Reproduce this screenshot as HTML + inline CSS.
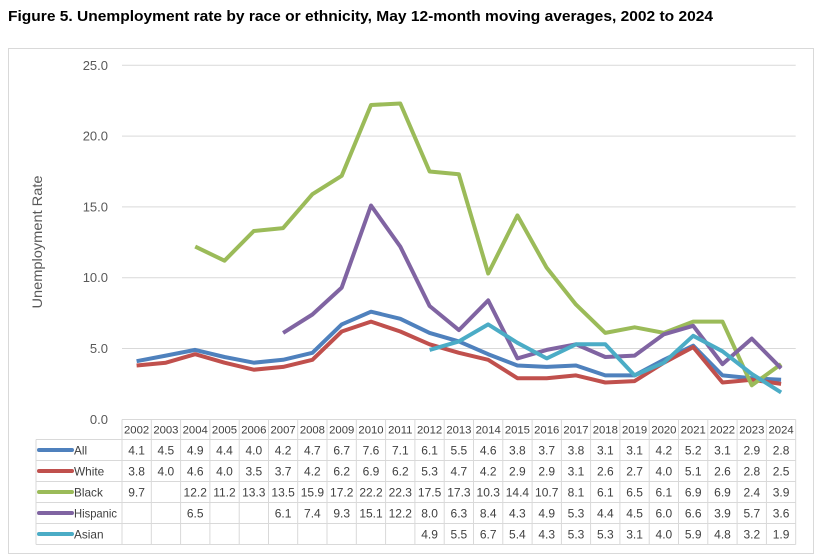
<!DOCTYPE html>
<html>
<head>
<meta charset="utf-8">
<style>
html,body{margin:0;padding:0;background:#fff;}
svg{display:block;}
</style>
</head>
<body>
<svg width="823" height="559" viewBox="0 0 823 559" xmlns="http://www.w3.org/2000/svg" font-family="'Liberation Sans', Arial, sans-serif">
<rect x="0" y="0" width="823" height="559" fill="#fff"/>
<text x="8" y="21" font-size="14.5" font-weight="bold" fill="#000" textLength="705" lengthAdjust="spacingAndGlyphs">Figure 5. Unemployment rate by race or ethnicity, May 12-month moving averages, 2002 to 2024</text>
<rect x="8.5" y="48.5" width="805" height="505" fill="#fff" stroke="#d9d9d9" stroke-width="1"/>

<!-- gridlines -->
<g stroke="#d9d9d9" stroke-width="1">
<line x1="122" y1="65.3" x2="795.7" y2="65.3"/>
<line x1="122" y1="136.1" x2="795.7" y2="136.1"/>
<line x1="122" y1="206.9" x2="795.7" y2="206.9"/>
<line x1="122" y1="277.7" x2="795.7" y2="277.7"/>
<line x1="122" y1="348.5" x2="795.7" y2="348.5"/>
</g>

<!-- y tick labels -->
<g font-size="13" fill="#595959" text-anchor="end">
<text x="108" y="69.8">25.0</text>
<text x="108" y="140.6">20.0</text>
<text x="108" y="211.4">15.0</text>
<text x="108" y="282.2">10.0</text>
<text x="108" y="353">5.0</text>
<text x="108" y="423.8">0.0</text>
</g>
<text transform="translate(42,242) rotate(-90)" font-size="14" fill="#595959" text-anchor="middle" textLength="133" lengthAdjust="spacingAndGlyphs">Unemployment Rate</text>

<!-- series -->
<g fill="none" stroke-width="4" stroke-linejoin="round" stroke-linecap="butt">
<polyline stroke="#4F81BD" points="136.6,361.2 165.9,355.6 195.2,349.9 224.5,357.0 253.8,362.7 283.1,359.8 312.4,352.8 341.7,324.4 371.0,311.7 400.3,318.8 429.6,332.9 458.9,341.4 488.2,354.2 517.4,365.5 546.7,366.9 576.0,365.5 605.3,375.4 634.6,375.4 663.9,359.8 693.2,345.7 722.5,375.4 751.8,378.2 781.1,379.7"/>
<polyline stroke="#C0504D" points="136.6,365.5 165.9,362.7 195.2,354.2 224.5,362.7 253.8,369.7 283.1,366.9 312.4,359.8 341.7,331.5 371.0,321.6 400.3,331.5 429.6,344.3 458.9,352.8 488.2,359.8 517.4,378.2 546.7,378.2 576.0,375.4 605.3,382.5 634.6,381.1 663.9,362.7 693.2,347.1 722.5,382.5 751.8,379.7 781.1,383.9"/>
<polyline stroke="#9BBB59" points="195.2,246.6 224.5,260.7 253.8,231.0 283.1,228.1 312.4,194.2 341.7,175.8 371.0,105.0 400.3,103.5 429.6,171.5 458.9,174.3 488.2,273.5 517.4,215.4 546.7,267.8 576.0,304.6 605.3,332.9 634.6,327.3 663.9,332.9 693.2,321.6 722.5,321.6 751.8,385.3 781.1,364.1"/>
<polyline stroke="#8064A2" points="283.1,332.9 312.4,314.5 341.7,287.6 371.0,205.5 400.3,246.6 429.6,306.0 458.9,330.1 488.2,300.4 517.4,358.4 546.7,349.9 576.0,344.3 605.3,357.0 634.6,355.6 663.9,334.3 693.2,325.8 722.5,364.1 751.8,338.6 781.1,368.3"/>
<polyline stroke="#4BACC6" points="429.6,349.9 458.9,341.4 488.2,324.4 517.4,342.8 546.7,358.4 576.0,344.3 605.3,344.3 634.6,375.4 663.9,362.7 693.2,335.8 722.5,351.3 751.8,374.0 781.1,392.4"/>
</g>

<!-- data table grid -->
<g stroke="#d9d9d9" stroke-width="1">
<line x1="122" y1="419.5" x2="795.7" y2="419.5"/>
<line x1="36" y1="439.5" x2="795.7" y2="439.5"/>
<line x1="36" y1="460.5" x2="795.7" y2="460.5"/>
<line x1="36" y1="481.5" x2="795.7" y2="481.5"/>
<line x1="36" y1="502.5" x2="795.7" y2="502.5"/>
<line x1="36" y1="523.5" x2="795.7" y2="523.5"/>
<line x1="36" y1="544.5" x2="795.7" y2="544.5"/>
<line x1="36" y1="439.5" x2="36" y2="544.5"/>
<line x1="122" y1="419.5" x2="122" y2="544.5"/>
<line x1="151.3" y1="419.5" x2="151.3" y2="544.5"/>
<line x1="180.6" y1="419.5" x2="180.6" y2="544.5"/>
<line x1="209.9" y1="419.5" x2="209.9" y2="544.5"/>
<line x1="239.2" y1="419.5" x2="239.2" y2="544.5"/>
<line x1="268.5" y1="419.5" x2="268.5" y2="544.5"/>
<line x1="297.7" y1="419.5" x2="297.7" y2="544.5"/>
<line x1="327.0" y1="419.5" x2="327.0" y2="544.5"/>
<line x1="356.3" y1="419.5" x2="356.3" y2="544.5"/>
<line x1="385.6" y1="419.5" x2="385.6" y2="544.5"/>
<line x1="414.9" y1="419.5" x2="414.9" y2="544.5"/>
<line x1="444.2" y1="419.5" x2="444.2" y2="544.5"/>
<line x1="473.5" y1="419.5" x2="473.5" y2="544.5"/>
<line x1="502.8" y1="419.5" x2="502.8" y2="544.5"/>
<line x1="532.1" y1="419.5" x2="532.1" y2="544.5"/>
<line x1="561.4" y1="419.5" x2="561.4" y2="544.5"/>
<line x1="590.6" y1="419.5" x2="590.6" y2="544.5"/>
<line x1="619.9" y1="419.5" x2="619.9" y2="544.5"/>
<line x1="649.2" y1="419.5" x2="649.2" y2="544.5"/>
<line x1="678.5" y1="419.5" x2="678.5" y2="544.5"/>
<line x1="707.8" y1="419.5" x2="707.8" y2="544.5"/>
<line x1="737.1" y1="419.5" x2="737.1" y2="544.5"/>
<line x1="766.4" y1="419.5" x2="766.4" y2="544.5"/>
<line x1="795.7" y1="419.5" x2="795.7" y2="544.5"/>
</g>

<!-- header years -->
<g font-size="11.3" fill="#404040" text-anchor="middle">
<text x="136.6" y="433.5">2002</text><text x="165.9" y="433.5">2003</text><text x="195.2" y="433.5">2004</text><text x="224.5" y="433.5">2005</text><text x="253.8" y="433.5">2006</text><text x="283.1" y="433.5">2007</text><text x="312.4" y="433.5">2008</text><text x="341.7" y="433.5">2009</text><text x="371.0" y="433.5">2010</text><text x="400.3" y="433.5">2011</text><text x="429.6" y="433.5">2012</text><text x="458.9" y="433.5">2013</text><text x="488.2" y="433.5">2014</text><text x="517.4" y="433.5">2015</text><text x="546.7" y="433.5">2016</text><text x="576.0" y="433.5">2017</text><text x="605.3" y="433.5">2018</text><text x="634.6" y="433.5">2019</text><text x="663.9" y="433.5">2020</text><text x="693.2" y="433.5">2021</text><text x="722.5" y="433.5">2022</text><text x="751.8" y="433.5">2023</text><text x="781.1" y="433.5">2024</text>
</g>

<!-- legend keys -->
<g stroke-width="4" stroke-linecap="round">
<line x1="39" y1="450" x2="72" y2="450" stroke="#4F81BD"/>
<line x1="39" y1="471" x2="72" y2="471" stroke="#C0504D"/>
<line x1="39" y1="492" x2="72" y2="492" stroke="#9BBB59"/>
<line x1="39" y1="513" x2="72" y2="513" stroke="#8064A2"/>
<line x1="39" y1="534" x2="72" y2="534" stroke="#4BACC6"/>
</g>
<g font-size="11.8" fill="#404040">
<text x="74" y="454.5">All</text>
<text x="74" y="475.5">White</text>
<text x="74" y="496.5">Black</text>
<text x="74" y="517.5" textLength="43" lengthAdjust="spacingAndGlyphs">Hispanic</text>
<text x="74" y="538.5">Asian</text>
</g>

<!-- values -->
<g font-size="12" fill="#404040" text-anchor="middle">
<!-- All -->
<text x="136.6" y="454.5">4.1</text><text x="165.9" y="454.5">4.5</text><text x="195.2" y="454.5">4.9</text><text x="224.5" y="454.5">4.4</text><text x="253.8" y="454.5">4.0</text><text x="283.1" y="454.5">4.2</text><text x="312.4" y="454.5">4.7</text><text x="341.7" y="454.5">6.7</text><text x="371.0" y="454.5">7.6</text><text x="400.3" y="454.5">7.1</text><text x="429.6" y="454.5">6.1</text><text x="458.9" y="454.5">5.5</text><text x="488.2" y="454.5">4.6</text><text x="517.4" y="454.5">3.8</text><text x="546.7" y="454.5">3.7</text><text x="576.0" y="454.5">3.8</text><text x="605.3" y="454.5">3.1</text><text x="634.6" y="454.5">3.1</text><text x="663.9" y="454.5">4.2</text><text x="693.2" y="454.5">5.2</text><text x="722.5" y="454.5">3.1</text><text x="751.8" y="454.5">2.9</text><text x="781.1" y="454.5">2.8</text>
<!-- White -->
<text x="136.6" y="475.5">3.8</text><text x="165.9" y="475.5">4.0</text><text x="195.2" y="475.5">4.6</text><text x="224.5" y="475.5">4.0</text><text x="253.8" y="475.5">3.5</text><text x="283.1" y="475.5">3.7</text><text x="312.4" y="475.5">4.2</text><text x="341.7" y="475.5">6.2</text><text x="371.0" y="475.5">6.9</text><text x="400.3" y="475.5">6.2</text><text x="429.6" y="475.5">5.3</text><text x="458.9" y="475.5">4.7</text><text x="488.2" y="475.5">4.2</text><text x="517.4" y="475.5">2.9</text><text x="546.7" y="475.5">2.9</text><text x="576.0" y="475.5">3.1</text><text x="605.3" y="475.5">2.6</text><text x="634.6" y="475.5">2.7</text><text x="663.9" y="475.5">4.0</text><text x="693.2" y="475.5">5.1</text><text x="722.5" y="475.5">2.6</text><text x="751.8" y="475.5">2.8</text><text x="781.1" y="475.5">2.5</text>
<!-- Black -->
<text x="136.6" y="496.5">9.7</text><text x="195.2" y="496.5">12.2</text><text x="224.5" y="496.5">11.2</text><text x="253.8" y="496.5">13.3</text><text x="283.1" y="496.5">13.5</text><text x="312.4" y="496.5">15.9</text><text x="341.7" y="496.5">17.2</text><text x="371.0" y="496.5">22.2</text><text x="400.3" y="496.5">22.3</text><text x="429.6" y="496.5">17.5</text><text x="458.9" y="496.5">17.3</text><text x="488.2" y="496.5">10.3</text><text x="517.4" y="496.5">14.4</text><text x="546.7" y="496.5">10.7</text><text x="576.0" y="496.5">8.1</text><text x="605.3" y="496.5">6.1</text><text x="634.6" y="496.5">6.5</text><text x="663.9" y="496.5">6.1</text><text x="693.2" y="496.5">6.9</text><text x="722.5" y="496.5">6.9</text><text x="751.8" y="496.5">2.4</text><text x="781.1" y="496.5">3.9</text>
<!-- Hispanic -->
<text x="195.2" y="517.5">6.5</text><text x="283.1" y="517.5">6.1</text><text x="312.4" y="517.5">7.4</text><text x="341.7" y="517.5">9.3</text><text x="371.0" y="517.5">15.1</text><text x="400.3" y="517.5">12.2</text><text x="429.6" y="517.5">8.0</text><text x="458.9" y="517.5">6.3</text><text x="488.2" y="517.5">8.4</text><text x="517.4" y="517.5">4.3</text><text x="546.7" y="517.5">4.9</text><text x="576.0" y="517.5">5.3</text><text x="605.3" y="517.5">4.4</text><text x="634.6" y="517.5">4.5</text><text x="663.9" y="517.5">6.0</text><text x="693.2" y="517.5">6.6</text><text x="722.5" y="517.5">3.9</text><text x="751.8" y="517.5">5.7</text><text x="781.1" y="517.5">3.6</text>
<!-- Asian -->
<text x="429.6" y="538.5">4.9</text><text x="458.9" y="538.5">5.5</text><text x="488.2" y="538.5">6.7</text><text x="517.4" y="538.5">5.4</text><text x="546.7" y="538.5">4.3</text><text x="576.0" y="538.5">5.3</text><text x="605.3" y="538.5">5.3</text><text x="634.6" y="538.5">3.1</text><text x="663.9" y="538.5">4.0</text><text x="693.2" y="538.5">5.9</text><text x="722.5" y="538.5">4.8</text><text x="751.8" y="538.5">3.2</text><text x="781.1" y="538.5">1.9</text>
</g>
</svg>
</body>
</html>
